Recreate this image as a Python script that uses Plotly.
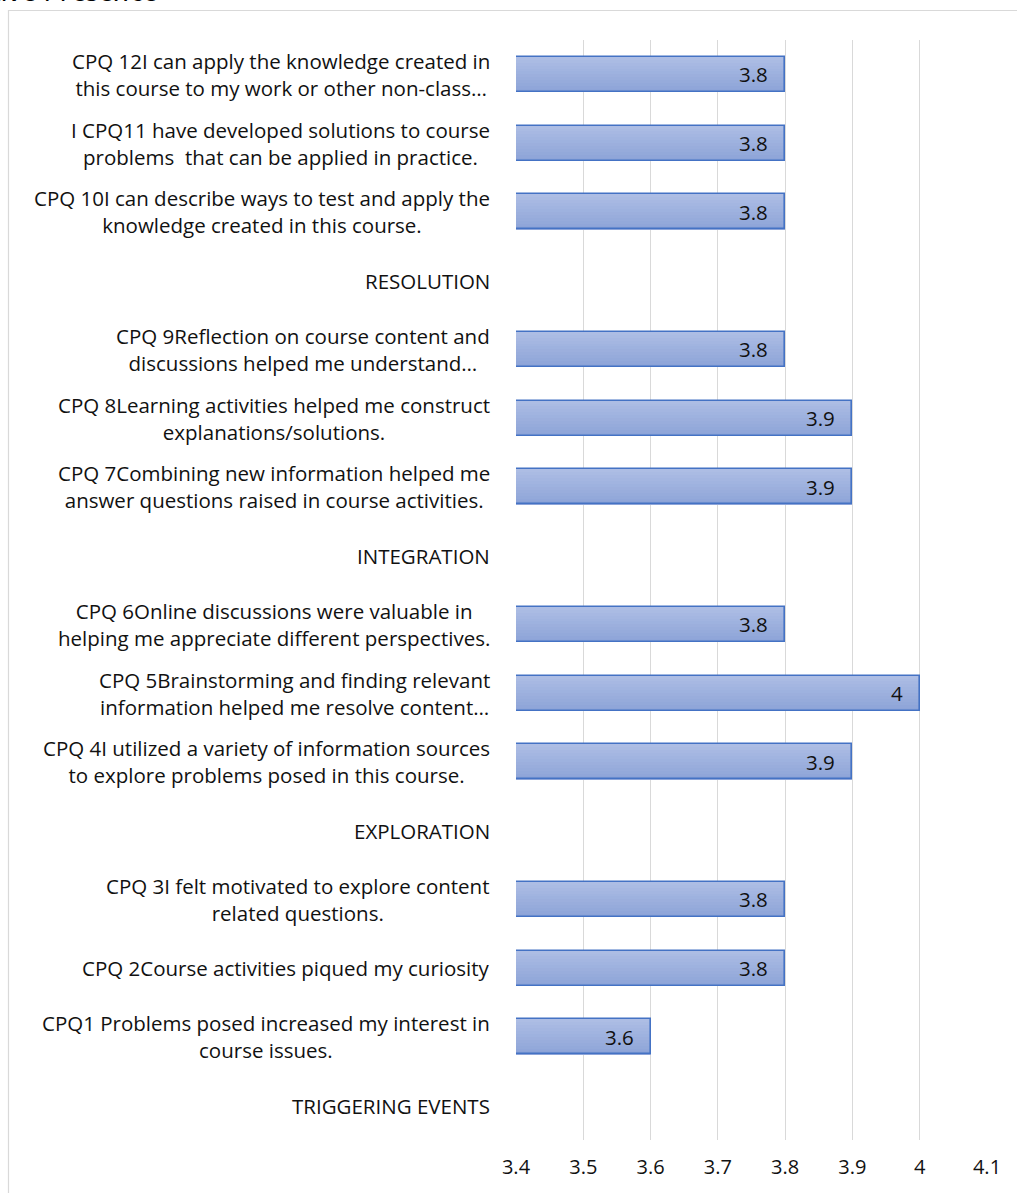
import plotly.graph_objects as go

# Survey items, listed top to bottom as they appear on the chart
categories = [
    "CPQ 12I can apply the knowledge created in<br>this course to my work or other non-class…",
    "I CPQ11 have developed solutions to course<br>problems  that can be applied in practice.",
    "CPQ 10I can describe ways to test and apply the<br>knowledge created in this course.",
    "RESOLUTION",
    "CPQ 9Reflection on course content and<br>discussions helped me understand…",
    "CPQ 8Learning activities helped me construct<br>explanations/solutions.",
    "CPQ 7Combining new information helped me<br>answer questions raised in course activities.",
    "INTEGRATION",
    "CPQ 6Online discussions were valuable in<br>helping me appreciate different perspectives.",
    "CPQ 5Brainstorming and finding relevant<br>information helped me resolve content…",
    "CPQ 4I utilized a variety of information sources<br>to explore problems posed in this course.",
    "EXPLORATION",
    "CPQ 3I felt motivated to explore content<br>related questions.",
    "CPQ 2Course activities piqued my curiosity",
    "CPQ1 Problems posed increased my interest in<br>course issues.",
    "TRIGGERING EVENTS",
]
mean_scores = [3.8, 3.8, 3.8, None, 3.8, 3.9, 3.9, None,
               3.8, 4, 3.9, None, 3.8, 3.8, 3.6, None]
x_ticks = [3.4, 3.5, 3.6, 3.7, 3.8, 3.9, 4, 4.1]
title_text = "Cognitive Presence"

FONT = "Open Sans"
TEXT_COLOR = "#111111"
W, H = 1017, 1193
ML, MR, MT, MB = 516, 30, 40, 53
PW, PH = W - ML - MR, H - MT - MB

BAR_W = 0.51
TOP_RGB = (173, 189, 228)
BOT_RGB = (141, 164, 216)
N_STRIPS = 12

fig = go.Figure()

# vertical gradient fill built from thin overlaid bar strips
for i in range(N_STRIPS):
    t = i / (N_STRIPS - 1)
    rgb = tuple(round(a + (b - a) * t) for a, b in zip(TOP_RGB, BOT_RGB))
    fig.add_trace(go.Bar(
        x=mean_scores, y=categories, orientation="h",
        width=BAR_W / N_STRIPS + 0.004,
        offset=-BAR_W / 2 + i * BAR_W / N_STRIPS,
        marker=dict(color="rgb(%d,%d,%d)" % rgb, line=dict(width=0)),
        hoverinfo="skip", showlegend=False,
    ))

# bar outline
fig.add_trace(go.Bar(
    x=mean_scores, y=categories, orientation="h", width=BAR_W,
    marker=dict(color="rgba(0,0,0,0)", line=dict(color="#4472C4", width=1.6)),
    showlegend=False,
))

annotations = []
# value labels at the inner end of each bar
for cat, v in zip(categories, mean_scores):
    if v is None:
        continue
    annotations.append(dict(
        x=v, y=cat, xref="x", yref="y", text=f"{v:g}", showarrow=False,
        xanchor="right", xshift=-15, font=dict(family=FONT, size=20.5, color=TEXT_COLOR),
    ))

# category labels, lines centred, block right-aligned next to the axis
label_x = (492 - ML) / PW
for cat in categories:
    annotations.append(dict(
        x=label_x, y=cat, xref="paper", yref="y", text=cat, showarrow=False,
        xanchor="right", align="center",
        font=dict(family=FONT, size=20.5, color=TEXT_COLOR),
    ))

# title sitting mostly above the visible page
annotations.append(dict(
    x=(160 - ML) / PW, y=1 + (MT - 11) / PH, xref="paper", yref="paper",
    text=f"<i>{title_text}</i>", showarrow=False, xanchor="right", yanchor="bottom",
    font=dict(family=FONT, size=29, color="#000000"),
))

fig.update_layout(
    width=W, height=H,
    margin=dict(l=ML, r=MR, t=MT, b=MB, pad=0),
    paper_bgcolor="white", plot_bgcolor="white",
    barmode="overlay", bargap=0,
    annotations=annotations,
    shapes=[dict(
        type="rect", xref="paper", yref="paper", layer="below",
        x0=(8.5 - ML) / PW, x1=(W + 20 - ML) / PW,
        y0=-(H + 20 - MT - PH) / PH, y1=1 + (MT - 10.5) / PH,
        line=dict(color="#D9D9D9", width=1.2), fillcolor="rgba(0,0,0,0)",
    )],
    xaxis=dict(
        range=[3.4, 4.1], tickvals=x_ticks, ticktext=[f"{t:g}" for t in x_ticks],
        showgrid=True, gridcolor="#D9D9D9", gridwidth=1.3,
        zeroline=False, showline=False, ticks="",
        ticklabelstandoff=13,
        tickfont=dict(family=FONT, size=20, color=TEXT_COLOR),
    ),
    yaxis=dict(
        type="category", categoryorder="array", categoryarray=categories,
        autorange="reversed", showticklabels=False, showgrid=False,
        zeroline=False, showline=False, ticks="",
    ),
)

fig.write_html("out.html")
